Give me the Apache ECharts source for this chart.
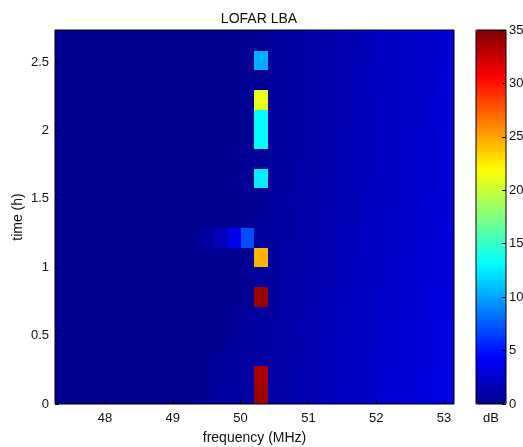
<!DOCTYPE html>
<html>
<head>
<meta charset="utf-8">
<script src="https://cdn.jsdelivr.net/npm/echarts@6/dist/echarts.min.js"></script>
<style>
  html, body { margin: 0; padding: 0; background: #fff; }
  #main { width: 523px; height: 447px; }
</style>
</head>
<body>
<div id="main"></div>
<script>
// column centres (MHz), one LOFAR subband each
const freqs = [47.36, 47.55, 47.75, 47.95, 48.14, 48.34, 48.54, 48.73, 48.93, 49.12,
               49.32, 49.52, 49.71, 49.91, 50.11, 50.30, 50.50, 50.70, 50.89, 51.09,
               51.28, 51.48, 51.68, 51.87, 52.07, 52.27, 52.46, 52.66, 52.85, 53.05];
// row centres (h)
const times = [0.072, 0.216, 0.360, 0.504, 0.648, 0.791, 0.935, 1.079, 1.223, 1.367,
               1.511, 1.655, 1.799, 1.943, 2.087, 2.230, 2.374, 2.518, 2.662];
const cellW = 0.1962;
const cellH = 0.1439;

// dB per row (bottom row first), one value per frequency column
const dbRows = [
  [0.1,0.1,0.1,0.1,0.1,0.1,0.1,0.1,0.1,0.1, 0.3,0.4,0.6,0.7,0.8, 34.0, 0.9,1.0,1.2,1.5,1.7,2.0,2.1,2.2,2.5,2.7,2.8,3.0,3.1,3.3],
  [0.1,0.1,0.1,0.1,0.1,0.1,0.1,0.1,0.1,0.1, 0.2,0.4,0.5,0.7,0.8, 33.5, 0.9,1.0,1.2,1.5,1.7,1.9,2.1,2.2,2.5,2.7,2.8,3.0,3.1,3.3],
  [0.1,0.1,0.1,0.1,0.1,0.1,0.1,0.1,0.1,0.1, 0.1,0.3,0.4,0.5,0.6, 0.8, 0.9,1.1,1.2,1.4,1.7,1.9,2.0,2.2,2.4,2.6,2.8,2.9,3.1,3.2],
  [0.1,0.1,0.1,0.1,0.1,0.1,0.1,0.1,0.1,0.1, 0.1,0.2,0.3,0.4,0.6, 0.8, 0.9,1.0,1.2,1.4,1.6,1.9,2.0,2.1,2.4,2.6,2.7,2.9,3.0,3.2],
  [0.1,0.1,0.1,0.1,0.1,0.1,0.1,0.1,0.1,0.1, 0.1,0.2,0.3,0.4,0.5, 0.7, 0.8,1.0,1.2,1.4,1.6,1.8,2.0,2.1,2.3,2.5,2.7,2.8,3.0,3.1],
  [0.1,0.1,0.1,0.1,0.1,0.1,0.1,0.1,0.1,0.1, 0.1,0.2,0.3,0.3,0.3, 34.0, 0.6,1.0,1.1,1.3,1.5,1.8,1.9,2.1,2.3,2.5,2.6,2.8,3.0,3.1],
  [0.1,0.1,0.1,0.1,0.1,0.1,0.1,0.1,0.1,0.1, 0.1,0.2,0.2,0.3,0.4, 0.5, 0.7,0.9,1.1,1.3,1.5,1.7,1.9,2.0,2.2,2.4,2.6,2.7,2.9,3.0],
  [0.1,0.1,0.1,0.1,0.1,0.1,0.1,0.1,0.1,0.1, 0.1,0.1,0.2,0.2,0.3, 24.5, 0.5,0.9,1.0,1.2,1.4,1.7,1.8,2.0,2.2,2.4,2.5,2.7,2.9,3.0],
  [0.1,0.1,0.1,0.1,0.1,0.1,0.1,0.1,0.1,0.1, 0.2,0.8,1.8,3.6,7.0, 0.5, 0.6,0.8,1.0,1.2,1.4,1.6,1.8,2.0,2.1,2.3,2.5,2.6,2.8,3.0],
  [0.1,0.1,0.1,0.1,0.1,0.1,0.1,0.1,0.1,0.1, 0.1,0.2,0.2,0.3,0.3, 0.4, 0.6,0.8,1.0,1.1,1.3,1.6,1.7,1.9,2.1,2.3,2.4,2.6,2.7,2.9],
  [0.1,0.1,0.1,0.1,0.1,0.1,0.1,0.1,0.1,0.1, 0.1,0.1,0.2,0.3,0.3, 0.4, 0.6,0.8,0.9,1.1,1.3,1.5,1.7,1.9,2.0,2.2,2.4,2.5,2.7,2.9],
  [0.1,0.1,0.1,0.1,0.1,0.1,0.1,0.1,0.1,0.1, 0.1,0.1,0.2,0.2,0.3, 12.6, 0.5,0.7,0.9,1.0,1.2,1.5,1.6,1.8,2.0,2.2,2.3,2.5,2.6,2.9],
  [0.1,0.1,0.1,0.1,0.1,0.1,0.1,0.1,0.1,0.1, 0.1,0.1,0.1,0.2,0.3, 0.4, 0.5,0.7,0.9,1.0,1.2,1.5,1.6,1.8,2.0,2.2,2.3,2.5,2.6,2.9],
  [0.1,0.1,0.1,0.1,0.1,0.1,0.1,0.1,0.1,0.1, 0.1,0.1,0.1,0.2,0.3, 13.2, 0.5,0.7,0.8,1.0,1.2,1.5,1.6,1.8,2.0,2.1,2.3,2.5,2.6,2.9],
  [0.1,0.1,0.1,0.1,0.1,0.1,0.1,0.1,0.1,0.1, 0.1,0.1,0.1,0.2,0.3, 13.2, 0.5,0.7,0.8,1.0,1.2,1.4,1.6,1.8,2.0,2.1,2.3,2.4,2.6,2.8],
  [0.1,0.1,0.1,0.1,0.1,0.1,0.1,0.1,0.1,0.1, 0.1,0.1,0.1,0.2,0.2, 21.0, 0.5,0.6,0.8,1.0,1.2,1.4,1.6,1.8,2.0,2.1,2.2,2.4,2.6,2.8],
  [0.1,0.1,0.1,0.1,0.1,0.1,0.1,0.1,0.1,0.1, 0.1,0.1,0.1,0.2,0.2, 0.4, 0.5,0.6,0.8,1.0,1.2,1.4,1.6,1.8,1.9,2.1,2.2,2.4,2.5,2.8],
  [0.1,0.1,0.1,0.1,0.1,0.1,0.1,0.1,0.1,0.1, 0.1,0.1,0.1,0.2,0.2, 10.3, 0.5,0.6,0.8,1.0,1.2,1.4,1.6,1.7,1.9,2.0,2.2,2.4,2.5,2.8],
  [0.1,0.1,0.1,0.1,0.1,0.1,0.1,0.1,0.1,0.1, 0.1,0.1,0.1,0.2,0.2, 0.4, 0.5,0.6,0.8,1.0,1.1,1.4,1.5,1.7,1.9,2.0,2.2,2.3,2.5,2.7]
];

const freqTicks = [48, 49, 50, 51, 52, 53];
const timeTicks = [0, 0.5, 1, 1.5, 2, 2.5];
const jet = ['#00008F', '#0000FF', '#0080FF', '#00FFFF', '#80FF80',
             '#FFFF00', '#FF8000', '#FF0000', '#800000'];

let cells = [];
dbRows.forEach(function (row, r) {
    row.forEach(function (v, c) {
        cells.push([freqs[c], times[r], v]);
    });
});

let myChart = echarts.init(document.getElementById('main'));
let font = 'Liberation Sans, Arial, sans-serif';

let option = {
    backgroundColor: '#fff',
    animation: false,
    textStyle: { fontFamily: font },
    title: {
        text: 'LOFAR LBA',
        left: 254,
        top: 7,
        textAlign: 'center',
        textStyle: { fontSize: 14, fontWeight: 'normal', color: '#111', fontFamily: font }
    },
    grid: [
        { left: 55, top: 30, width: 399, height: 374, show: true, z: 5,
          outerBoundsMode: 'none', containLabel: false,
          borderColor: '#000', borderWidth: 1, backgroundColor: 'transparent' },
        { left: 476, top: 30, width: 30, height: 374, show: true, z: 5,
          outerBoundsMode: 'none', containLabel: false,
          borderColor: '#000', borderWidth: 1, backgroundColor: 'transparent' }
    ],
    xAxis: [
        {
            type: 'value', gridIndex: 0,
            min: freqs[0] - cellW / 2, max: freqs[freqs.length - 1] + cellW / 2,
            name: 'frequency (MHz)', nameLocation: 'middle', nameGap: 27,
            nameMoveOverlap: false,
            nameTextStyle: { fontSize: 14, color: '#111' },
            splitLine: { show: false },
            axisLine: { show: false },
            axisTick: { show: true, inside: true, length: 4, customValues: freqTicks, lineStyle: { color: '#000' } },
            axisLabel: { customValues: freqTicks, fontSize: 13, color: '#111', margin: 8 },
            z: 6
        },
        {
            type: 'category', gridIndex: 1, data: ['dB'],
            splitLine: { show: false },
            axisLine: { show: false }, axisTick: { show: false },
            axisLabel: { fontSize: 13, color: '#111', margin: 8 }
        }
    ],
    yAxis: [
        {
            type: 'value', gridIndex: 0,
            min: 0, max: times[times.length - 1] + cellH / 2,
            name: 'time (h)', nameLocation: 'middle', nameGap: 30,
            nameMoveOverlap: false,
            nameTextStyle: { fontSize: 14, color: '#111' },
            splitLine: { show: false },
            axisLine: { show: false },
            axisTick: { show: true, inside: true, length: 4, customValues: timeTicks, lineStyle: { color: '#000' } },
            axisLabel: { customValues: timeTicks, fontSize: 13, color: '#111', margin: 6 },
            z: 6
        },
        {
            type: 'value', gridIndex: 1, position: 'right',
            min: 0, max: 35, interval: 5,
            splitLine: { show: false },
            axisLine: { show: false },
            axisTick: { show: true, inside: true, length: 4, lineStyle: { color: '#000' } },
            axisLabel: { fontSize: 13, color: '#111', margin: 3 },
            z: 6
        }
    ],
    visualMap: {
        type: 'continuous',
        min: 0, max: 35,
        dimension: 2,
        seriesIndex: 0,
        calculable: false,
        hoverLink: false,
        left: 476, top: 30,
        itemWidth: 30, itemHeight: 374,
        padding: 0,
        inRange: { color: jet }
    },
    series: [
        {
            type: 'custom',
            xAxisIndex: 0, yAxisIndex: 0,
            clip: true,
            encode: { x: 0, y: 1 },
            renderItem: function (params, api) {
                let f = api.value(0), t = api.value(1);
                let p0 = api.coord([f - cellW / 2, t - cellH / 2]);
                let p1 = api.coord([f + cellW / 2, t + cellH / 2]);
                let x0 = Math.round(p0[0]), x1 = Math.round(p1[0]);
                let y0 = Math.round(p1[1]), y1 = Math.round(p0[1]);
                return {
                    type: 'rect',
                    shape: { x: x0, y: y0, width: x1 - x0 + 1, height: y1 - y0 + 1 },
                    style: { fill: api.visual('color'), stroke: null, lineWidth: 0 }
                };
            },
            data: cells
        }
    ]
};

myChart.setOption(option);
</script>
</body>
</html>
